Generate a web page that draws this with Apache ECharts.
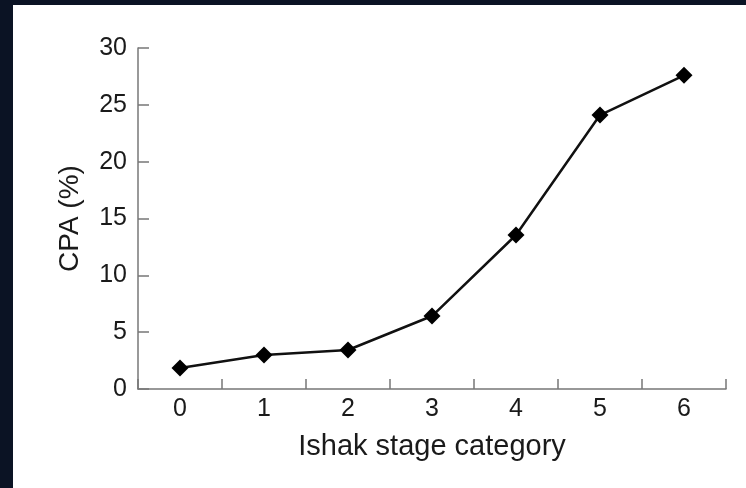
<!DOCTYPE html>
<html>
<head>
<meta charset="utf-8">
<script src="https://cdn.jsdelivr.net/npm/echarts@6/dist/echarts.min.js"></script>
<style>
html,body{margin:0;padding:0;background:#0b1324;}
#chart{width:746px;height:488px;}
</style>
</head>
<body>
<div id="chart"></div>
<script>
var categories = ['0', '1', '2', '3', '4', '5', '6'];
var cpaValues = [1.85, 2.99, 3.43, 6.42, 13.55, 24.1, 27.6];
var xAxisTitle = 'Ishak stage category';
var yAxisTitle = 'CPA (%)';

var chart = echarts.init(document.getElementById('chart'));
var fontFam = '"Liberation Sans", Arial, sans-serif';
chart.setOption({
  backgroundColor: '#0b1324',
  graphic: [{
    type: 'rect', z: -10, silent: true,
    shape: { x: 13, y: 5, width: 746, height: 488 },
    style: { fill: '#ffffff' }
  }],
  grid: { left: 138, right: 20, top: 48, bottom: 99, containLabel: false },
  xAxis: {
    type: 'category',
    data: categories,
    boundaryGap: true,
    name: xAxisTitle,
    nameLocation: 'middle',
    nameGap: 43,
    nameTextStyle: { fontSize: 29, color: '#1a1a1a', fontFamily: fontFam },
    axisLine: { lineStyle: { color: '#777', width: 1.5 } },
    axisTick: { show: true, inside: true, length: 10, alignWithLabel: false, lineStyle: { color: '#777', width: 1.5 } },
    axisLabel: { fontSize: 25, color: '#1a1a1a', margin: 8, fontFamily: fontFam },
    splitLine: { show: false }
  },
  yAxis: {
    type: 'value',
    min: 0, max: 30, interval: 5,
    name: yAxisTitle,
    nameLocation: 'middle',
    nameGap: 54,
    nameTextStyle: { fontSize: 28, color: '#1a1a1a', fontFamily: fontFam },
    axisLine: { show: true, lineStyle: { color: '#777', width: 1.5 } },
    axisTick: { show: true, inside: true, length: 11, lineStyle: { color: '#777', width: 1.5 } },
    axisLabel: { fontSize: 25, color: '#1a1a1a', margin: 11, fontFamily: fontFam },
    splitLine: { show: false }
  },
  series: [{
    type: 'line',
    data: cpaValues,
    symbol: 'diamond',
    symbolSize: 17,
    showSymbol: true,
    itemStyle: { color: '#000' },
    lineStyle: { color: '#111', width: 2.5 },
    animation: false
  }],
  animation: false
});
</script>
</body>
</html>
